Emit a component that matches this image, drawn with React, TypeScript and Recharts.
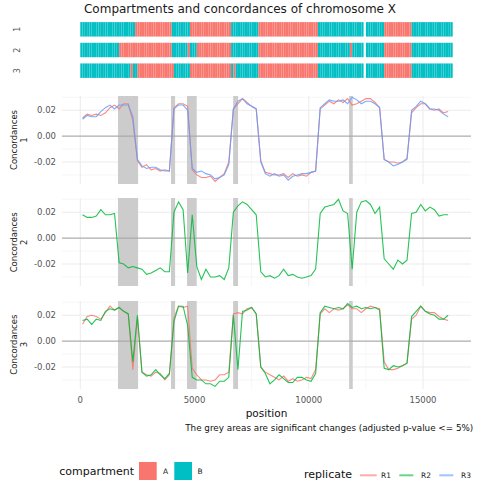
import React from 'react';
import { LineChart, Line, XAxis, YAxis, ReferenceArea, ReferenceLine, ComposedChart, CartesianGrid } from 'recharts';

const positions = [
  100, 300, 500, 700, 900, 1100, 1300, 1500, 1700, 1900,
  2100, 2300, 2500, 2700, 2900, 3100, 3300, 3500, 3700, 3900,
  4100, 4300, 4500, 4700, 4900, 5100, 5300, 5500, 5700, 5900,
  6100, 6300, 6500, 6700, 6900, 7100, 7300, 7500, 7700, 7900,
  8100, 8300, 8500, 8700, 8900, 9100, 9300, 9500, 9700, 9900,
  10100, 10300, 10500, 10700, 10900, 11100, 11300, 11500, 11700, 11900,
  12100, 12300, 12500, 12700, 12900, 13100, 13300, 13500, 13700, 13900,
  14100, 14300, 14500, 14700, 14900, 15100, 15300, 15500, 15700, 15900,
  16100,
];

// Concordances 1 : replicates R1 and R3
const conc1R1 = [
  0.014, 0.017, 0.016, 0.017, 0.016, 0.018, 0.022, 0.024, 0.021, 0.025,
  0.025, 0.012, -0.019, -0.024, -0.022, -0.026, -0.025, -0.027, -0.026, -0.027,
  0.022, 0.025, 0.025, 0.023, -0.026, -0.030, -0.032, -0.032, -0.031, -0.035,
  -0.032, -0.029, -0.020, 0.021, 0.025, 0.029, 0.026, 0.023, 0.021, -0.019,
  -0.028, -0.029, -0.030, -0.030, -0.029, -0.032, -0.029, -0.031, -0.030, -0.031,
  -0.028, -0.027, 0.021, 0.024, 0.027, 0.025, 0.028, 0.026, 0.029, 0.024,
  0.025, 0.027, 0.029, 0.029, 0.026, 0.022, -0.018, -0.020, -0.020, -0.021,
  -0.020, -0.017, 0.018, 0.022, 0.025, 0.025, 0.021, 0.020, 0.021, 0.018,
  0.019,
];
const conc1R3 = [
  0.013, 0.016, 0.015, 0.015, 0.019, 0.022, 0.024, 0.021, 0.024, 0.024,
  0.024, 0.015, -0.018, -0.023, -0.025, -0.024, -0.024, -0.026, -0.027, -0.027,
  0.021, 0.024, 0.024, 0.020, -0.025, -0.028, -0.027, -0.029, -0.030, -0.033,
  -0.032, -0.030, -0.022, 0.021, 0.027, 0.029, 0.025, 0.023, 0.021, -0.020,
  -0.029, -0.031, -0.029, -0.031, -0.030, -0.034, -0.031, -0.030, -0.029, -0.029,
  -0.028, -0.027, 0.022, 0.025, 0.028, 0.027, 0.027, 0.028, 0.025, 0.030,
  0.028, 0.025, 0.027, 0.027, 0.025, 0.022, -0.018, -0.020, -0.023, -0.022,
  -0.020, -0.018, 0.020, 0.023, 0.027, 0.025, 0.021, 0.021, 0.020, 0.017,
  0.015,
];
// Concordances 2 : replicate R2
const conc2R2 = [
  0.018, 0.016, 0.016, 0.017, 0.022, 0.018, 0.018, 0.019, -0.019, -0.020,
  -0.023, -0.022, -0.023, -0.024, -0.028, -0.027, -0.025, -0.023, -0.026, -0.026,
  0.020, 0.028, 0.022, -0.027, 0.018, -0.022, -0.032, -0.024, -0.030, -0.030,
  -0.029, -0.032, -0.023, 0.020, 0.025, 0.028, 0.026, 0.022, 0.018, -0.026,
  -0.030, -0.029, -0.031, -0.029, -0.024, -0.029, -0.028, -0.030, -0.031, -0.030,
  -0.029, -0.024, 0.019, 0.024, 0.025, 0.026, 0.030, 0.021, 0.019, -0.024,
  0.020, 0.028, 0.029, 0.026, 0.019, 0.024, -0.016, -0.020, -0.024, -0.017,
  -0.020, -0.017, 0.019, 0.020, 0.026, 0.021, 0.024, 0.022, 0.017, 0.018,
  0.018,
];
// Concordances 3 : replicates R1 and R2
const conc3R1 = [
  0.013, 0.019, 0.020, 0.019, 0.017, 0.022, 0.027, 0.024, 0.026, 0.023,
  0.021, -0.022, 0.018, -0.024, -0.026, -0.027, -0.024, -0.025, -0.030, -0.026,
  0.018, 0.027, 0.026, 0.027, -0.021, -0.026, -0.030, -0.030, -0.031, -0.030,
  -0.026, -0.026, -0.024, 0.021, 0.022, 0.021, 0.025, 0.026, 0.021, -0.020,
  -0.024, -0.026, -0.028, -0.030, -0.027, -0.031, -0.029, -0.031, -0.030, -0.028,
  -0.029, -0.022, 0.021, 0.025, 0.022, 0.025, 0.024, 0.025, 0.028, 0.025,
  0.025, 0.022, 0.025, 0.027, 0.026, 0.025, -0.016, -0.022, -0.022, -0.021,
  -0.019, -0.017, 0.017, 0.020, 0.027, 0.023, 0.022, 0.022, 0.019, 0.017,
  0.016,
];
const conc3R2 = [
  0.016, 0.017, 0.013, 0.017, 0.016, 0.023, 0.025, 0.024, 0.026, 0.023,
  0.021, -0.016, 0.020, -0.024, -0.027, -0.026, -0.022, -0.026, -0.029, -0.025,
  0.015, 0.027, 0.027, 0.012, -0.028, -0.030, -0.030, -0.033, -0.033, -0.035,
  -0.031, -0.031, -0.028, 0.020, -0.022, 0.023, 0.024, 0.026, 0.021, -0.020,
  -0.025, -0.033, -0.030, -0.026, -0.029, -0.032, -0.032, -0.028, -0.028, -0.030,
  -0.031, -0.025, 0.022, 0.027, 0.026, 0.025, 0.026, 0.025, 0.029, 0.026,
  0.027, 0.025, 0.026, 0.025, 0.026, 0.024, -0.021, -0.022, -0.019, -0.020,
  -0.019, -0.017, 0.019, 0.023, 0.027, 0.023, 0.021, 0.020, 0.017, 0.017,
  0.020,
];

// grey areas: significant changes
const sigStarts = [1650, 3970, 4670, 6690, 11765];
const sigEnds = [2530, 4150, 5095, 6905, 11925];

// compartments per replicate track: [start, end, compartment]
const track1: [number, number, string][] = [
  [0, 2400, 'B'], [2400, 4000, 'A'], [4000, 4800, 'B'], [4800, 6600, 'A'], [6600, 7800, 'B'],
  [7800, 10400, 'A'], [10400, 12400, 'B'], [12500, 13300, 'B'], [13300, 14500, 'A'], [14500, 16300, 'B'],
];
const track2: [number, number, string][] = [
  [0, 1700, 'B'], [1700, 4000, 'A'], [4000, 4700, 'B'], [4700, 4800, 'A'], [4800, 5100, 'B'],
  [5100, 6600, 'A'], [6600, 7800, 'B'], [7800, 10400, 'A'], [10400, 11800, 'B'], [11800, 11900, 'A'],
  [11900, 12400, 'B'], [12500, 13300, 'B'], [13300, 14500, 'A'], [14500, 16300, 'B'],
];
const track3: [number, number, string][] = [
  [0, 2200, 'B'], [2200, 2300, 'A'], [2300, 2500, 'B'], [2500, 4100, 'A'], [4100, 4800, 'B'],
  [4800, 6600, 'A'], [6600, 6700, 'B'], [6700, 6800, 'A'], [6800, 7800, 'B'], [7800, 10400, 'A'],
  [10400, 12400, 'B'], [12500, 13300, 'B'], [13300, 14500, 'A'], [14500, 16300, 'B'],
];
const binSize = 100;

const xTicks = [0, 5000, 10000, 15000];
const xMinor = [2500, 7500, 12500];
const yTicks = [-0.02, 0, 0.02];
const yMinor = [-0.03, -0.01, 0.01, 0.03];
const xDomain: [number, number] = [-800, 17100];
const yDomain: [number, number] = [-0.037, 0.031];

const COL_A = '#F8766D';
const COL_B = '#00BFC4';
const COL_R1 = '#F8766D';
const COL_R2 = '#00BA38';
const COL_R3 = '#619CFF';
const FONT = '"DejaVu Sans", sans-serif';

const rows = positions.map((pos, i) => ({
  pos,
  c1r1: conc1R1[i],
  c1r3: conc1R3[i],
  c2r2: conc2R2[i],
  c3r1: conc3R1[i],
  c3r2: conc3R2[i],
}));

const tracks = [track1, track2, track3];
const tiles: { x1: number; x2: number; row: number; comp: string }[] = [];
tracks.forEach((tr, ti) => {
  tr.forEach(([s, e, c]) => {
    for (let b = s; b < e; b += binSize) tiles.push({ x1: b, x2: b + binSize, row: ti + 1, comp: c });
  });
});

const PLOT_LEFT = 62;
const RIGHT_M = 9;
const PANEL_H = 88;
const panelTops = [96, 198.3, 300.6];

function Panel({ idx, series }: { idx: number; series: { key: string; color: string }[] }) {
  const last = idx === 2;
  const mt = 4;
  const mb = last ? 0 : 4;
  const xh = last ? 20 : 0;
  return (
    <div style={{ position: 'absolute', left: 0, top: panelTops[idx] - mt }}>
      <LineChart width={480} height={PANEL_H + mt + mb + xh} data={rows} margin={{ top: mt, right: RIGHT_M, bottom: mb, left: 0 }}>
        <CartesianGrid horizontalValues={yMinor} verticalValues={xMinor} stroke="#f0f0f0" strokeWidth={0.6} />
        <CartesianGrid horizontalValues={yTicks} verticalValues={xTicks} stroke="#ebebeb" strokeWidth={1} />
        <XAxis
          type="number"
          dataKey="pos"
          domain={xDomain}
          allowDataOverflow
          ticks={xTicks}
          hide={!last}
          height={xh}
          axisLine={false}
          tickLine={false}
          tick={{ fontSize: 8.5, fill: '#555', fontFamily: FONT }}
        />
        <YAxis
          type="number"
          domain={yDomain}
          allowDataOverflow
          ticks={yTicks}
          width={PLOT_LEFT}
          axisLine={false}
          tickLine={false}
          tickSize={4}
          tickMargin={2}
          tickFormatter={(v: number) => v.toFixed(2)}
          tick={{ fontSize: 8.5, fill: '#555', fontFamily: FONT }}
        />
        {sigStarts.map((s, i) => (
          <ReferenceArea key={'sig' + i} x1={s} x2={sigEnds[i]} fill="#cccccc" fillOpacity={1} strokeWidth={0} />
        ))}
        <ReferenceLine y={0} stroke="#a3a3a3" strokeWidth={1} />
        {series.map((s) => (
          <Line
            key={s.key}
            type="linear"
            dataKey={s.key}
            stroke={s.color}
            strokeWidth={1.1}
            strokeOpacity={0.85}
            dot={false}
            isAnimationActive={false}
          />
        ))}
      </LineChart>
    </div>
  );
}

function Tracks() {
  return (
    <div style={{ position: 'absolute', left: 0, top: 0 }}>
      <ComposedChart width={480} height={100} data={tiles} margin={{ top: 19, right: RIGHT_M, bottom: 19, left: 0 }}>
        <XAxis type="number" dataKey="x1" domain={xDomain} allowDataOverflow hide />
        <YAxis type="number" domain={[0.5, 3.5]} allowDataOverflow reversed width={PLOT_LEFT} tick={false} axisLine={false} tickLine={false} />
        {tiles.map((t, i) => (
          <ReferenceArea
            key={i}
            x1={t.x1}
            x2={t.x2}
            y1={t.row - 0.35}
            y2={t.row + 0.35}
            fill={t.comp === 'A' ? COL_A : COL_B}
            fillOpacity={1}
            stroke="#ffffff"
            strokeOpacity={0.09}
            strokeWidth={0.4}
          />
        ))}
      </ComposedChart>
    </div>
  );
}

function Overlay() {
  const centers = panelTops.map((t) => t + PANEL_H / 2);
  return (
    <svg width={480} height={480} style={{ position: 'absolute', left: 0, top: 0, pointerEvents: 'none' }} fontFamily={FONT}>
      <text x={240} y={12.5} textAnchor="middle" fontSize={12} fill="#1a1a1a">
        Compartments and concordances of chromosome X
      </text>
      {['1', '2', '3'].map((l, i) => (
        <text key={l} x={17.3} y={[29.3, 50.3, 70.7][i]} transform={`rotate(-90 17.3 ${[29.3, 50.3, 70.7][i]})`} textAnchor="middle" dominantBaseline="central" fontSize={8} fill="#555">
          {l}
        </text>
      ))}
      {centers.map((cy, i) => (
        <g key={i} transform={`rotate(-90 0 ${cy})`}>
          <text x={0} y={cy + 14} textAnchor="middle" dominantBaseline="central" fontSize={8.5} fill="#222">
            Concordances
          </text>
          <text x={0} y={cy + 24.3} textAnchor="middle" dominantBaseline="central" fontSize={8.5} fill="#222">
            {String(i + 1)}
          </text>
        </g>
      ))}
      <text x={266.5} y={417} textAnchor="middle" fontSize={10.5} fill="#111">position</text>
      <text x={473.3} y={430.5} textAnchor="end" fontSize={8.8} fill="#111">
        The grey areas are significant changes (adjusted p-value &lt;= 5%)
      </text>
      <text x={59.3} y={475} fontSize={11} fill="#111">compartment</text>
      <rect x={139} y={462} width={17.7} height={18} fill={COL_A} />
      <text x={163} y={473.8} fontSize={7.5} fill="#222">A</text>
      <rect x={174.3} y={462} width={17.7} height={18} fill={COL_B} />
      <text x={197.5} y={473.8} fontSize={7.5} fill="#222">B</text>
      <text x={304} y={477.5} fontSize={11} fill="#111">replicate</text>
      <line x1={360} x2={376.7} y1={475.3} y2={475.3} stroke={COL_R1} strokeOpacity={0.6} strokeWidth={2} />
      <text x={381} y={478.2} fontSize={7.5} fill="#222">R1</text>
      <line x1={399.3} x2={413.3} y1={475.3} y2={475.3} stroke={COL_R2} strokeOpacity={0.6} strokeWidth={2} />
      <text x={421} y={478.2} fontSize={7.5} fill="#222">R2</text>
      <line x1={439.3} x2={453.3} y1={475.3} y2={475.3} stroke={COL_R3} strokeOpacity={0.6} strokeWidth={2} />
      <text x={461} y={478.2} fontSize={7.5} fill="#222">R3</text>
    </svg>
  );
}

export default function App() {
  return (
    <div style={{ position: 'absolute', left: 0, top: 0, width: 480, height: 480, background: '#fff', overflow: 'hidden', fontFamily: FONT }}>
      <Tracks />
      <Panel idx={0} series={[{ key: 'c1r1', color: COL_R1 }, { key: 'c1r3', color: COL_R3 }]} />
      <Panel idx={1} series={[{ key: 'c2r2', color: COL_R2 }]} />
      <Panel idx={2} series={[{ key: 'c3r1', color: COL_R1 }, { key: 'c3r2', color: COL_R2 }]} />
      <Overlay />
    </div>
  );
}
